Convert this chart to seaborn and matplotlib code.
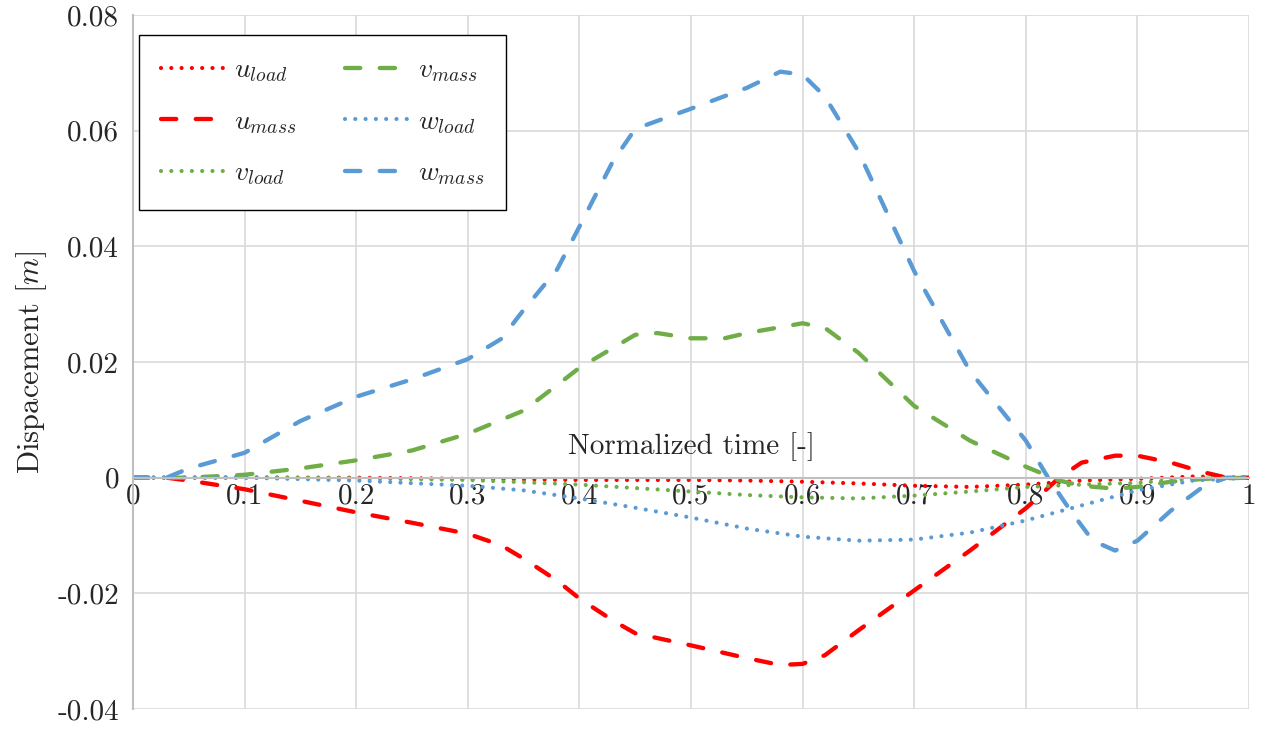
import numpy as np
import pandas as pd
import seaborn as sns
import matplotlib
matplotlib.use("Agg")
import matplotlib.pyplot as plt

# values (normalized time -> displacement [m])
t_w_mass = [0, 0.03, 0.05, 0.1, 0.15, 0.2, 0.25, 0.3, 0.33, 0.35, 0.38, 0.4, 0.43, 0.45, 0.5, 0.55,
            0.58, 0.6, 0.62, 0.65, 0.7, 0.75, 0.8, 0.82, 0.84, 0.86, 0.88, 0.9, 0.93, 0.96, 0.98, 1.0]
w_mass = [0, 0, 0.0016, 0.0043, 0.0098, 0.014, 0.017, 0.0205, 0.024, 0.029, 0.036, 0.0434, 0.0547,
          0.0603, 0.0638, 0.0674, 0.0702, 0.0697, 0.0659, 0.0564, 0.0357, 0.0184, 0.0064, 0.0, -0.0057,
          -0.0109, -0.0126, -0.0109, -0.0057, -0.0014, 0, 0]

t_u_mass = [0, 0.03, 0.05, 0.1, 0.15, 0.2, 0.25, 0.3, 0.33, 0.35, 0.38, 0.4, 0.43, 0.45, 0.5, 0.55,
            0.58, 0.6, 0.62, 0.65, 0.7, 0.75, 0.8, 0.83, 0.85, 0.88, 0.9, 0.93, 0.96, 0.98, 1.0]
u_mass = [0, 0, -0.0005, -0.002, -0.004, -0.006, -0.0078, -0.0097, -0.0117, -0.014, -0.0178, -0.0209,
          -0.0247, -0.0269, -0.029, -0.0312, -0.0324, -0.0322, -0.0307, -0.0264, -0.0195, -0.0126,
          -0.0053, 0.0, 0.0026, 0.0038, 0.0038, 0.0026, 0.0009, 0, 0]

t_v_mass = [0, 0.05, 0.1, 0.15, 0.2, 0.25, 0.3, 0.35, 0.38, 0.4, 0.45, 0.47, 0.5, 0.53, 0.55, 0.6,
            0.62, 0.65, 0.7, 0.75, 0.8, 0.83, 0.85, 0.88, 0.9, 0.93, 0.96, 1.0]
v_mass = [0, 0, 0.0005, 0.0016, 0.003, 0.0047, 0.0076, 0.0116, 0.016, 0.019, 0.0247, 0.025, 0.0241,
          0.0241, 0.025, 0.0267, 0.0259, 0.0216, 0.0124, 0.0064, 0.0019, -0.0005, -0.0014, -0.0019,
          -0.0016, -0.0007, -0.0002, 0]

t_load = [0, 0.1, 0.2, 0.3, 0.35, 0.4, 0.45, 0.5, 0.55, 0.6, 0.65, 0.7, 0.75, 0.8, 0.85, 0.9, 0.95, 1.0]
w_load = [0, 0, -0.0005, -0.0014, -0.0022, -0.0036, -0.0052, -0.0069, -0.0088, -0.0102, -0.0109,
          -0.0107, -0.0095, -0.0074, -0.0048, -0.0022, -0.0005, 0]
v_load = [0, 0.0001, -0.0001, -0.0004, -0.0008, -0.0012, -0.0018, -0.0024, -0.003, -0.0034, -0.0036,
          -0.0031, -0.0024, -0.0016, -0.0012, -0.0009, -0.0002, 0]
u_load = [0, 0, 0, -0.0002, -0.0003, -0.0004, -0.0004, -0.0004, -0.0005, -0.0007, -0.001, -0.0014,
          -0.0016, -0.0012, -0.0005, -0.0002, 0.0002, 0]

names = [r"$u_{load}$", r"$u_{mass}$", r"$v_{load}$", r"$v_{mass}$", r"$w_{load}$", r"$w_{mass}$"]
xs = [t_load, t_u_mass, t_load, t_v_mass, t_load, t_w_mass]
ys = [u_load, u_mass, v_load, v_mass, w_load, w_mass]
colors = ["#ff0000", "#ff0000", "#70ad47", "#70ad47", "#5b9bd5", "#5b9bd5"]
kinds = ["dot", "dash", "dot", "dash", "dot", "dash"]

sns.set_style("white")
plt.rcParams["font.family"] = "serif"
plt.rcParams["font.serif"] = ["cmr10", "DejaVu Serif"]
plt.rcParams["mathtext.fontset"] = "cm"
plt.rcParams["lines.scale_dashes"] = False
plt.rcParams["axes.unicode_minus"] = False

fig = plt.figure(figsize=(12.67, 7.29), dpi=100)
ax = fig.add_axes([133 / 1267, 1 - 709 / 729, (1249 - 133) / 1267, (709 - 15) / 729])

for n, x, y, c, k in zip(names, xs, ys, colors, kinds):
    d = pd.DataFrame({"t": x, "disp": y})
    if k == "dot":
        sns.lineplot(data=d, x="t", y="disp", color=c, label=n, estimator=None, sort=False,
                     linewidth=3.0, linestyle=(0, (0.01, 7.4)), dash_capstyle="round", ax=ax)
    else:
        sns.lineplot(data=d, x="t", y="disp", color=c, label=n, estimator=None, sort=False,
                     linewidth=3.1, linestyle=(0, (11, 14)), dash_capstyle="round", ax=ax)

ax.set_xlim(0, 1)
ax.set_ylim(-0.04, 0.08)
ax.set_xticks(np.round(np.arange(0, 1.01, 0.1), 1))
ax.set_xticklabels(["0", "0.1", "0.2", "0.3", "0.4", "0.5", "0.6", "0.7", "0.8", "0.9", "1"])
ax.set_yticks([-0.04, -0.02, 0, 0.02, 0.04, 0.06, 0.08])
ax.set_yticklabels(["-0.04", "-0.02", "0", "0.02", "0.04", "0.06", "0.08"])
ax.tick_params(axis="both", length=0, labelsize=21)
ax.tick_params(axis="x", pad=4)
ax.tick_params(axis="y", pad=10)

ax.grid(True, color="#d9d9d9", linewidth=1.2)
for s in ["top", "right"]:
    ax.spines[s].set_visible(False)
ax.spines["left"].set_color("#bfbfbf")
ax.spines["left"].set_linewidth(1.5)
ax.spines["bottom"].set_position(("data", 0))
ax.spines["bottom"].set_color("#bfbfbf")
ax.spines["bottom"].set_linewidth(1.5)
ax.set_axisbelow(True)

ax.set_xlabel("")
ax.set_ylabel(r"Dispacement $[m]$", fontsize=22, labelpad=6)
ax.text(0.5, 0.378, "Normalized time [-]", transform=ax.transAxes, ha="center", va="center",
        fontsize=21)

leg = ax.legend(loc="upper left", bbox_to_anchor=(0.0054, 0.971), ncol=2, fancybox=False,
                edgecolor="black", framealpha=1, fontsize=20, handlelength=2.4,
                labelspacing=0.88, columnspacing=1.75, borderpad=0.8, borderaxespad=0,
                handletextpad=0.22)
leg.get_frame().set_linewidth(1.0)

fig.savefig("out.png", dpi=100)
